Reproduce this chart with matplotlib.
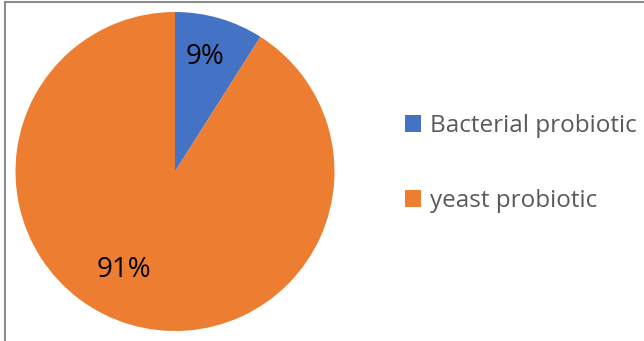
import matplotlib
matplotlib.use("Agg")
import matplotlib.pyplot as plt
from matplotlib.patches import Patch

labels = ["Bacterial probiotic", "yeast probiotic"]
shares = [9, 91]
colors = ["#4472C4", "#ED7D31"]

plt.rcParams["font.family"] = ["Open Sans", "DejaVu Sans"]

W, H = 644, 341
fig = plt.figure(figsize=(W / 100, H / 100), dpi=100)

# pie axes placed in pixel units
ax = fig.add_axes([15.5 / W, (H - 331) / H, 319 / W, 319 / H])
wedges, texts, pcts = ax.pie(
    shares,
    colors=colors,
    startangle=90,
    counterclock=False,
    autopct="%1.0f%%",
    pctdistance=0.76,
    textprops={"fontsize": 20, "color": "#000000"},
    wedgeprops={"linewidth": 0},
    radius=1,
)
pcts[0].set_position((0.19, 0.72))
pcts[1].set_position((-0.32, -0.62))
ax.set_xlim(-1, 1)
ax.set_ylim(-1, 1)
ax.set_aspect("equal")
ax.axis("off")

handles = [Patch(facecolor=c, edgecolor="none") for c in colors]
leg = fig.legend(
    handles,
    labels,
    loc="center left",
    bbox_to_anchor=(405 / W, 1 - 163.5 / H),
    frameon=False,
    fontsize=17.5,
    handlelength=0.66,
    handleheight=0.66,
    handletextpad=0.35,
    labelspacing=2.1,
    borderpad=0,
    borderaxespad=0,
)
for t in leg.get_texts():
    t.set_color("#595959")

# thin border along the top and left edges
fig.add_artist(plt.Line2D([5 / W, 5 / W], [0, 1 - 1.5 / H], color="#8c8c8c", lw=1.5))
fig.add_artist(plt.Line2D([5 / W, 1], [1 - 1.5 / H, 1 - 1.5 / H], color="#8c8c8c", lw=1.5))

fig.savefig("out.png", dpi=100)
